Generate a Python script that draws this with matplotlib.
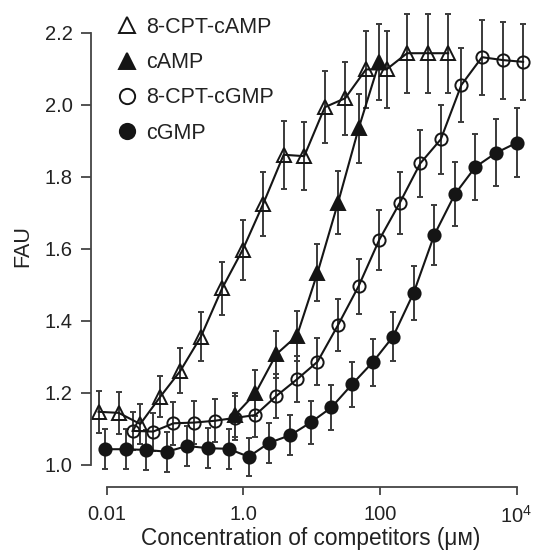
import numpy as np
import matplotlib
matplotlib.use("Agg")
import matplotlib.pyplot as plt
from matplotlib.lines import Line2D

plt.rcParams['font.family'] = ['Liberation Sans', 'DejaVu Sans']

# -----------------------------------------------------
# Data (concentration in uM, FAU mean, error)
# -----------------------------------------------------
conc_cpt_camp = [0.0076, 0.015, 0.031, 0.061, 0.12, 0.24, 0.49, 0.98, 1.95, 3.9,
                 7.8, 15.6, 31, 62.5, 125, 250, 500, 1000]
fau_cpt_camp = [1.147, 1.144, 1.113, 1.189, 1.261, 1.356, 1.490, 1.597, 1.724, 1.861,
                1.857, 1.993, 2.018, 2.098, 2.098, 2.143, 2.143, 2.143]
err_cpt_camp = [0.058, 0.058, 0.055, 0.057, 0.062, 0.068, 0.074, 0.083, 0.088, 0.094,
                0.094, 0.100, 0.102, 0.106, 0.107, 0.110, 0.110, 0.110]

conc_camp = [0.76, 1.5, 3.05, 6.1, 12.2, 24.4, 48.8, 98]
fau_camp = [1.138, 1.198, 1.307, 1.358, 1.533, 1.728, 1.934, 2.119]
err_camp = [0.060, 0.064, 0.065, 0.070, 0.079, 0.087, 0.097, 0.106]

conc_cpt_cgmp = [0.024, 0.048, 0.095, 0.19, 0.38, 0.76, 1.5, 3.05, 6.1, 12.2,
                 24.4, 48.8, 98, 195, 390, 780, 1560, 3125, 6250, 12500]
fau_cpt_cgmp = [1.094, 1.092, 1.115, 1.117, 1.122, 1.130, 1.138, 1.191, 1.237, 1.286,
                1.388, 1.496, 1.625, 1.727, 1.837, 1.904, 2.055, 2.132, 2.124, 2.119]
err_cpt_cgmp = [0.053, 0.053, 0.060, 0.060, 0.060, 0.060, 0.060, 0.062, 0.064, 0.065,
                0.071, 0.076, 0.083, 0.087, 0.093, 0.096, 0.103, 0.104, 0.107, 0.106]

conc_cgmp = [0.0095, 0.019, 0.038, 0.076, 0.15, 0.3, 0.61, 1.2, 2.4, 4.9,
             9.8, 19.5, 39, 78, 156, 313, 625, 1250, 2500, 5000, 10000]
fau_cgmp = [1.043, 1.043, 1.041, 1.036, 1.052, 1.046, 1.044, 1.022, 1.061, 1.082,
            1.118, 1.159, 1.223, 1.284, 1.356, 1.478, 1.638, 1.751, 1.827, 1.866, 1.894]
err_cgmp = [0.055, 0.055, 0.055, 0.055, 0.055, 0.055, 0.055, 0.052, 0.055, 0.056,
            0.060, 0.062, 0.062, 0.065, 0.069, 0.075, 0.083, 0.089, 0.093, 0.093, 0.096]

labels = ['8-CPT-cAMP', 'cAMP', '8-CPT-cGMP', 'cGMP']
xticks = [0.01, 1.0, 100, 1e4]
xticklabels = ['0.01', '1.0', '100', r'$\mathregular{10^4}$']
yticks = [1.0, 1.2, 1.4, 1.6, 1.8, 2.0, 2.2]

# -----------------------------------------------------
# Figure
# -----------------------------------------------------
W, H = 538, 550
fig = plt.figure(figsize=(W / 100, H / 100), dpi=100)

# axes box in pixels: left spine at x=90.7, bottom spine at y=486.7
left_px, right_px, top_px, bot_px = 90.7, 530.0, 5.0, 486.7
ax = fig.add_axes([left_px / W, 1 - bot_px / H,
                   (right_px - left_px) / W, (bot_px - top_px) / H])

px_per_dec = 68.3
x0_px = 106.7
ax.set_xscale('log')
ax.set_xlim(10 ** ((left_px - x0_px) / px_per_dec - 2),
            10 ** ((right_px - x0_px) / px_per_dec - 2))
px_per_unit = 360.0
y22_px = 32.7
ax.set_ylim(2.2 - (bot_px - y22_px) / px_per_unit,
            2.2 + (y22_px - top_px) / px_per_unit)

line_c = '#151515'
bar_c = '#3a3a3a'

series = [
    (conc_cpt_camp, fau_cpt_camp, err_cpt_camp, '^', 'none', 10.5),
    (conc_camp, fau_camp, err_camp, '^', line_c, 10.5),
    (conc_cpt_cgmp, fau_cpt_cgmp, err_cpt_cgmp, 'o', 'none', 8.8),
    (conc_cgmp, fau_cgmp, err_cgmp, 'o', line_c, 8.8),
]

for xs, ys, es, mk, fc, ms in series:
    ax.errorbar(xs, ys, yerr=es, fmt='-', color=line_c, lw=1.5,
                marker=mk, ms=ms, mfc=fc, mec=line_c, mew=1.4,
                ecolor=bar_c, elinewidth=1.4, capsize=2.2, capthick=1.2,
                clip_on=False)

# -----------------------------------------------------
# Axes styling: detached, trimmed spines
# -----------------------------------------------------
for s in ['top', 'right']:
    ax.spines[s].set_visible(False)
ax.spines['left'].set_bounds(1.0, 2.2)
ax.spines['bottom'].set_bounds(0.01, 1e4)
for s in ['left', 'bottom']:
    ax.spines[s].set_linewidth(1.3)
    ax.spines[s].set_color('#444444')

ax.set_xticks(xticks)
ax.set_xticklabels(xticklabels)
ax.xaxis.set_minor_locator(matplotlib.ticker.NullLocator())
ax.set_yticks(yticks)
ax.set_yticklabels([f'{v:.1f}' for v in yticks])
ax.tick_params(axis='x', length=6, width=1.3, color='#444444', labelsize=14.5,
               pad=7, labelcolor='#222222')
ax.tick_params(axis='y', length=7, width=1.3, color='#444444', labelsize=14.5,
               pad=6, labelcolor='#222222')

ax.set_xlabel('Concentration of competitors (μᴍ)', fontsize=16.3,
              color='#222222', labelpad=0)
ax.set_ylabel('FAU', fontsize=15.5, color='#222222', labelpad=8)

handles = [
    Line2D([], [], ls='none', marker='^', ms=12, mfc='none', mec=line_c, mew=1.4),
    Line2D([], [], ls='none', marker='^', ms=12, mfc=line_c, mec=line_c, mew=1.4),
    Line2D([], [], ls='none', marker='o', ms=11, mfc='none', mec=line_c, mew=1.4),
    Line2D([], [], ls='none', marker='o', ms=11, mfc=line_c, mec=line_c, mew=1.4),
]
ax.legend(handles, labels, loc='upper left', frameon=False, fontsize=15.5,
          bbox_to_anchor=(116 / W, 1 - 17 / H), bbox_transform=fig.transFigure,
          handlelength=1.0, handletextpad=0.4, labelspacing=0.66,
          borderaxespad=0, borderpad=0, labelcolor='#222222')

fig.savefig('out.png', dpi=100)
